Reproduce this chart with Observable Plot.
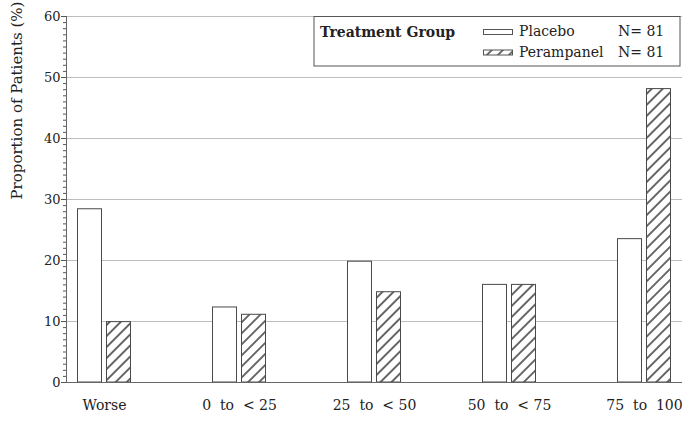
<!DOCTYPE html>
<html><head><meta charset="utf-8">
<script src="https://cdn.jsdelivr.net/npm/d3@7"></script>
<script src="https://cdn.jsdelivr.net/npm/@observablehq/plot@0.6"></script>
<style>body{margin:0;background:#fff} #chart svg{display:block}</style>
</head><body><div id="chart"></div>
<script>
const categories = ["Worse", "0\u00a0\u00a0to\u00a0\u00a0< 25", "25\u00a0\u00a0to\u00a0\u00a0< 50", "50\u00a0\u00a0to\u00a0\u00a0< 75", "75\u00a0\u00a0to\u00a0\u00a0100"];
const placebo = [28.4, 12.3, 19.8, 16.0, 23.5];
const perampanel = [9.9, 11.1, 14.8, 16.0, 48.1];
const yTicks = [0, 10, 20, 30, 40, 50, 60];
const minorTicks = d3.range(0, 61, 1);
const yLabel = "Proportion of Patients (%)";
const legendTitle = "Treatment Group";
const groups = ["Placebo", "Perampanel"];
const groupN = ["N= 81", "N= 81"];

const placeboData = categories.map((c, i) => ({category: c, value: placebo[i]}));
const perampanelData = categories.map((c, i) => ({category: c, value: perampanel[i]}));

const edge = "#4a4a4a";
const svg = Plot.plot({
  width: 688, height: 422,
  marginLeft: 66, marginRight: 6, marginTop: 16, marginBottom: 40,
  style: {fontFamily: "DejaVu Serif", fontSize: "13px", color: "#222", background: "#fff"},
  x: {domain: categories, paddingInner: 0.6074, paddingOuter: 0.0852, round: false, label: null},
  y: {domain: [0, 60], label: null},
  marks: [
    Plot.gridY(yTicks.filter(d => d > 0), {stroke: "#bdbdbd", strokeOpacity: 1}),
    Plot.barY(placeboData, {x: "category", y: "value", fill: "white", stroke: edge, strokeWidth: 1, insetLeft: 0, insetRight: 29}),
    Plot.barY(perampanelData, {x: "category", y: "value", fill: "url(#hatch)", stroke: edge, strokeWidth: 1, insetLeft: 29, insetRight: 0}),
    Plot.ruleY([0], {stroke: "#666"}),
    Plot.frame({anchor: "left", stroke: "#666"}),
    Plot.axisY(minorTicks, {tickSize: 3, tickFormat: () => "", stroke: "#555"}),
    Plot.axisY(yTicks, {tickSize: 5, tickPadding: 1, stroke: "#555", fontSize: 13}),
    Plot.axisX({tickSize: 0, tickPadding: 18, fontSize: 14}),
    Plot.text([yLabel], {frameAnchor: "left", rotate: -90, dx: -49, fontSize: 15, fill: "#222"})
  ]
});
document.getElementById("chart").appendChild(svg);

const s = d3.select(svg);
const defs = s.insert("defs", ":first-child");
const pat = defs.append("pattern").attr("id", "hatch").attr("patternUnits", "userSpaceOnUse")
  .attr("width", 7.8).attr("height", 10).attr("patternTransform", "rotate(45)");
pat.append("rect").attr("width", 7.8).attr("height", 10).attr("fill", "white");
pat.append("line").attr("x1", 1).attr("y1", 0).attr("x2", 1).attr("y2", 10).attr("stroke", "#444").attr("stroke-width", 1.6);

const lg = s.append("g").attr("font-family", "DejaVu Serif").attr("font-size", 14).attr("fill", "#222").attr("text-anchor", "start");
lg.append("rect").attr("x", 314).attr("y", 16.5).attr("width", 366).attr("height", 49.5)
  .attr("fill", "white").attr("stroke", "#555");
lg.append("text").attr("x", 320).attr("y", 37).attr("font-weight", "bold").text(legendTitle);
groups.forEach((g, i) => {
  const by = 36 + i * 20.5;
  lg.append("rect").attr("x", 483.5).attr("y", by - 6.5).attr("width", 29).attr("height", 5)
    .attr("fill", i === 0 ? "white" : "url(#hatch)").attr("stroke", "#555");
  lg.append("text").attr("x", 519).attr("y", by).text(g);
  lg.append("text").attr("x", 618).attr("y", by).text(groupN[i]);
});
</script></body></html>
